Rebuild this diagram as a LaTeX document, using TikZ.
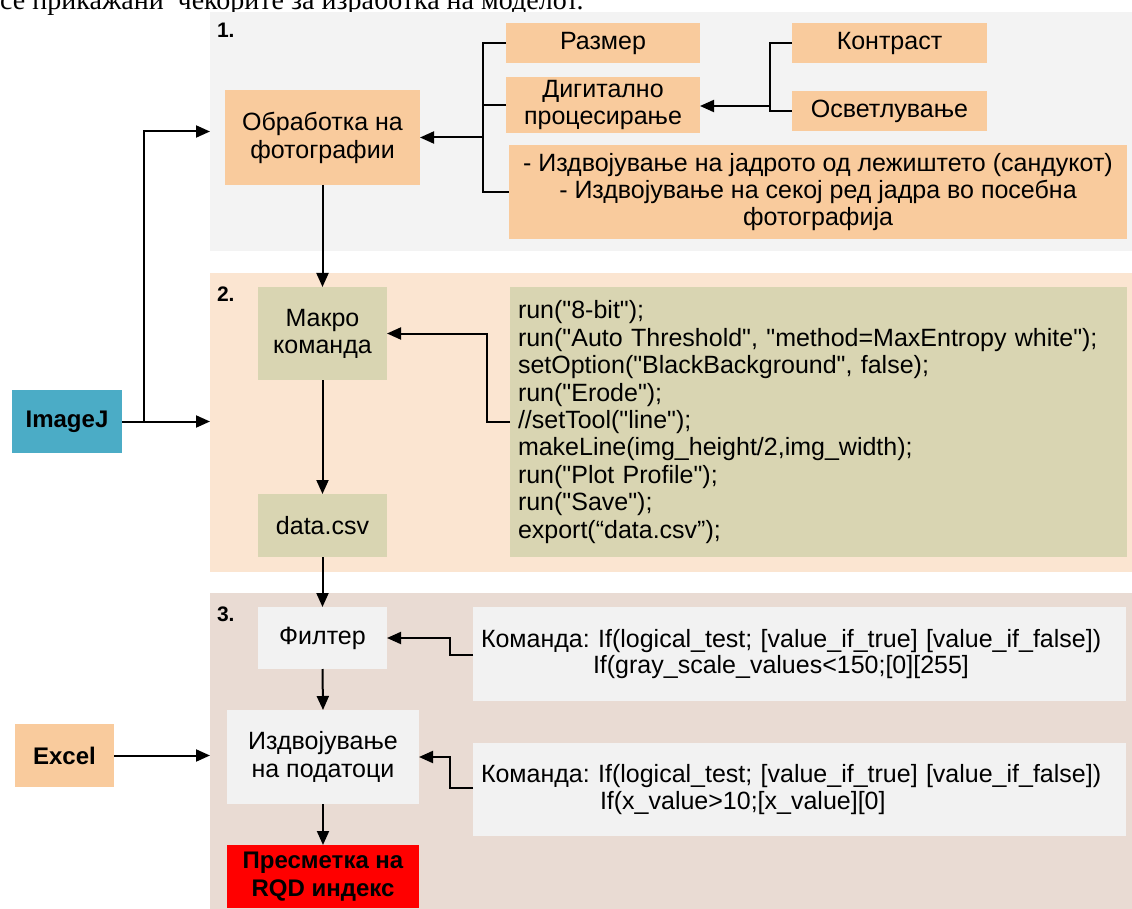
\documentclass[tikz,border=0pt]{standalone}
\usepackage{fontspec}
\setmainfont{Liberation Sans}
\newfontfamily\codefont{Liberation Sans}[Ligatures=TeXOff]
\newfontfamily\serifhead{Liberation Serif}
\usetikzlibrary{arrows.meta,calc}
\definecolor{panelA}{HTML}{F3F3F3}
\definecolor{panelB}{HTML}{FBE5D1}
\definecolor{panelC}{HTML}{E9DBD3}
\definecolor{orangebox}{HTML}{F9CB9D}
\definecolor{olivebox}{HTML}{D9D5B2}
\definecolor{graybox}{HTML}{F2F2F2}
\definecolor{ijblue}{HTML}{4BACC6}
\definecolor{redbox}{HTML}{FF0000}
\frenchspacing
\tikzset{
  panel/.style={rectangle, draw=none, inner sep=0pt, outer sep=0pt},
  box/.style={rectangle, draw=none, inner sep=0pt, outer sep=0pt, align=center,
    font=\fontsize{25}{28}\selectfont},
  lbl/.style={inner sep=0pt, outer sep=0pt, font=\bfseries\fontsize{21}{23}\selectfont},
  conn/.style={line width=2pt},
  arr/.style={line width=2pt, -{Triangle[length=14pt,width=12pt]}},
}
\begin{document}
\begin{tikzpicture}[x=1pt,y=1pt]
\useasboundingbox (0,0) rectangle (1132,-909);
\clip (0,0) rectangle (1132,-909);
\fill[white] (0,0) rectangle (1132,-909);

% header (cut off at the top edge, as in the reference)
\node[anchor=base west, inner sep=0pt, font=\serifhead\fontsize{28}{30}\selectfont] (hdr) at (0,-10) {се прикажани\ \ чекорите за изработка на моделот.};

% panels
\node[panel, fill=panelA, minimum width=922, minimum height=239] (p1) at (671,-131.5) {};
\node[panel, fill=panelB, minimum width=922, minimum height=299] (p2) at (671,-422.5) {};
\node[panel, fill=panelC, minimum width=922, minimum height=316] (p3) at (671,-751) {};

\node[lbl, anchor=north west] (l1) at (217,-23) {1.};
\node[lbl, anchor=north west] (l2) at (217,-287) {2.};
\node[lbl, anchor=north west] (l3) at (217,-607) {3.};

% panel 1
\node[box, fill=orangebox, minimum width=195, minimum height=95] (obr) at (322.5,-137.5) {Обработка на\\фотографии};
\node[box, fill=orangebox, minimum width=194, minimum height=40] (razmer) at (603,-43) {Размер};
\node[box, fill=orangebox, minimum width=194, minimum height=56, font=\fontsize{25}{27}\selectfont] (digit) at (603,-105) {Дигитално\\процесирање};
\node[box, fill=orangebox, minimum width=618, minimum height=94, font=\fontsize{25}{27}\selectfont] (izdv) at (818,-192) {- Издвојување на јадрото од лежиштето (сандукот)\\- Издвојување на секој ред јадра во посебна\\фотографија};
\node[box, fill=orangebox, minimum width=195, minimum height=40] (kontrast) at (889.5,-43) {Контраст};
\node[box, fill=orangebox, minimum width=195, minimum height=40] (osvet) at (889.5,-111) {Осветлување};

% side boxes
\node[box, fill=ijblue, minimum width=110, minimum height=63, font=\bfseries\fontsize{24}{28}\selectfont] (imagej) at (67,-421.5) {ImageJ};
\node[box, fill=orangebox, minimum width=99, minimum height=63, font=\bfseries\fontsize{24}{28}\selectfont] (excel) at (64.5,-755.5) {Excel};

% panel 2
\node[box, fill=olivebox, minimum width=129, minimum height=93, font=\fontsize{25}{27}\selectfont] (makro) at (322.5,-333.5) {Макро\\команда};
\node[box, fill=olivebox, minimum width=129, minimum height=63] (data) at (322.5,-525.5) {data.csv};
\node[rectangle, fill=olivebox, inner xsep=8pt, inner ysep=0pt, outer sep=0pt, text width=601pt, minimum height=270, align=left, font=\codefont\fontsize{25}{27.4}\selectfont] (code) at (818.5,-422) {run("8-bit");\\run("Auto Threshold", "method=MaxEntropy white");\\setOption("BlackBackground", false);\\run("Erode");\\//setTool("line");\\makeLine(img\_height/2,img\_width);\\run("Plot Profile");\\run("Save");\\export(“data.csv”);};

% panel 3
\node[box, fill=graybox, minimum width=129, minimum height=62] (filter) at (322.5,-638) {Филтер};
\node[rectangle, fill=graybox, inner xsep=8pt, inner ysep=0pt, outer sep=0pt, text width=637pt, minimum height=94, align=left, font=\fontsize{25}{26}\selectfont] (cmd1) at (799.5,-654) {Команда: If(logical\_test; [value\_if\_true] [value\_if\_false])\\\hspace*{112pt}If(gray\_scale\_values<150;[0][255]};
\node[box, fill=graybox, minimum width=192, minimum height=94] (izdpod) at (323,-757) {Издвојување\\на податоци};
\node[rectangle, fill=graybox, inner xsep=8pt, inner ysep=0pt, outer sep=0pt, text width=637pt, minimum height=93, align=left, font=\fontsize{25}{27}\selectfont] (cmd2) at (799.5,-789.5) {Команда: If(logical\_test; [value\_if\_true] [value\_if\_false])\\\hspace*{119pt}If(x\_value>10;[x\_value][0]};
\node[box, fill=redbox, minimum width=192, minimum height=63, font=\bfseries\fontsize{24}{28}\selectfont] (presm) at (323,-876.5) {Пресметка на\\RQD индекс};

% junction coordinates
\coordinate (j1) at (483,-137.5);
\coordinate (j2) at (770,-106);
\coordinate (jI) at (144,-421.5);

% connectors panel 1
\draw[conn] (razmer.west) -| (j1) |- (izdv.west);
\draw[conn] (digit.west) -- (digit.west -| j1);
\draw[arr] (j1) -- (obr.east);
\draw[conn] (kontrast.west) -| (j2) |- (osvet.west);
\draw[arr] (j2) -- (j2 -| digit.east);

% ImageJ and Excel
\draw[arr] (imagej.east) -- (imagej.east -| p2.west);
\draw[arr] (jI) |- (p1.west);
\draw[arr] (excel.east) -- (excel.east -| p3.west);

% main flow
\draw[arr] (obr.south) -- (makro.north);
\draw[arr] (makro.south) -- (data.north);
\draw[arr] (data.south) -- (filter.north);
\draw[arr] (filter.south) -- (izdpod.north);
\draw[arr] (izdpod.south) -- (presm.north);

% command links
\draw[arr] (code.west) -- ++(-23,0) |- (makro.east);
\draw[arr] ([yshift=-1pt]cmd1.west) -- ++(-23,0) |- (filter.east);
\draw[arr] ([yshift=1.5pt]cmd2.west) -- ++(-23,0) |- (izdpod.east);
\end{tikzpicture}
\end{document}
